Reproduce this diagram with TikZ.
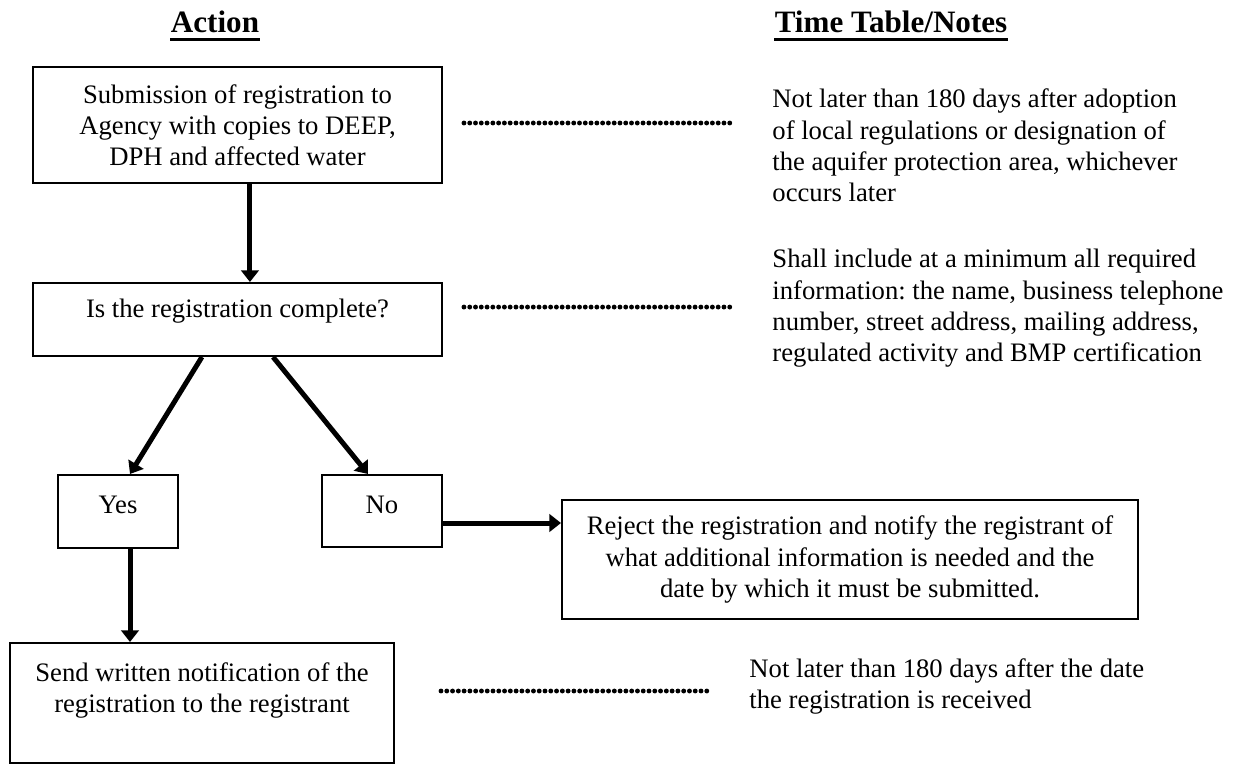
\documentclass[tikz,border=0pt]{standalone}
\usepackage{fontspec}
\setmainfont{Liberation Serif}
\usetikzlibrary{arrows.meta}
\frenchspacing

\begin{document}
\begin{tikzpicture}
        [x=0.45pt, y=-0.45pt,
         every node/.style={font=\fontsize{12}{14}\selectfont, inner sep=0pt},
         box/.style={draw, line width=0.9pt, align=center},
         head/.style={font=\fontsize{14}{16}\selectfont\bfseries, text depth=0pt, inner ysep=2.7pt, anchor=base},
         note/.style={anchor=base west, text width=215pt, align=flush left},
         arr/.style={line width=2.25pt, -{Triangle[width=7.8pt,length=5.2pt]}},
         dots/.style={line width=2.2pt, line cap=round, dash pattern=on 0pt off 2.6pt}]
        \useasboundingbox (0,0) rectangle (1240,765);
        \node[head] (A) at (215,33) {Action};
        \node[head] (T) at (891,33) {Time Table/Notes};
        \draw[line width=1.35pt] (A.south west) -- (A.south east);
        \draw[line width=1.35pt] (T.south west) -- (T.south east);
        \node[box, minimum width=184pt, minimum height=52.2pt] (S) at (237.5,125) {Submission of registration to\\Agency with copies to DEEP,\\DPH and affected water};
        \node[box, minimum width=184pt, text height=15.75pt, text depth=17.1pt, anchor=base] (C) at (237.5,318) {Is the registration complete?};
        \node[box, minimum width=54pt, text height=17.1pt, text depth=15.75pt, anchor=base] (Y) at (118,513) {Yes};
        \node[box, minimum width=54pt, text height=17.1pt, text depth=15.3pt, anchor=base] (N) at (382,513) {No};
        \node[box, minimum width=259.2pt, minimum height=53.55pt] (R) at (850,559.5) {Reject the registration and notify the registrant of\\what additional information is needed and the\\date by which it must be submitted.};
        \node[box, minimum width=172.8pt, minimum height=54pt] (W) at (202,703) {Send written notification of the\\registration to the registrant\\ \mbox{}};
        \node[note] (TS) at (772,108) {Not later than 180 days after adoption\\of local regulations or designation of\\the aquifer protection area, whichever\\occurs later};
        \node[note] (TC) at (772,268) {Shall include at a minimum all required\\information: the name, business telephone\\number, street address, mailing address,\\regulated activity and BMP certification};
        \node[note] (TW) at (749,677) {Not later than 180 days after the date\\the registration is received};
        \draw[arr] ([xshift=5.6pt]S.south) -- ([xshift=5.6pt]S.south |- C.north);
        \draw[arr] ([xshift=-16pt]C.south) -- ([xshift=5.4pt]Y.north);
        \draw[arr] ([xshift=16pt]C.south) -- ([xshift=-6.3pt]N.north);
        \draw[arr] ([yshift=-5.4pt]N.east) -- ([yshift=-5.4pt]N.east -| R.west);
        \draw[arr] ([xshift=5.4pt]Y.south) -- ([xshift=5.4pt]Y.south |- W.north);
        \draw[dots] ([xshift=9.45pt,yshift=0.9pt]S.east) -- ([xshift=-18pt,yshift=0.9pt]S.east -| TS.west);
        \draw[dots] ([xshift=9.45pt,yshift=5.6pt]C.east) -- ([xshift=-18pt,yshift=5.6pt]C.east -| TC.west);
        \draw[dots] ([xshift=20.7pt,yshift=5.4pt]W.east) -- ([xshift=-18.9pt,yshift=5.4pt]W.east -| TW.west);
    \end{tikzpicture}
\end{document}
